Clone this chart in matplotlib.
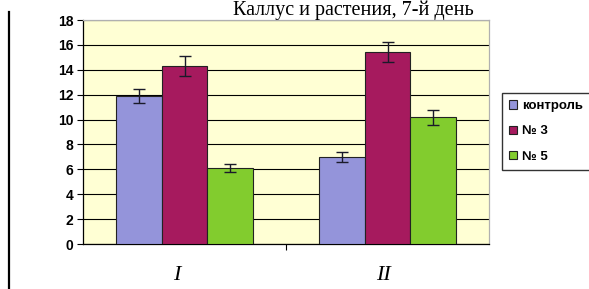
import matplotlib
matplotlib.use("Agg")
from matplotlib import pyplot as plt
from matplotlib.lines import Line2D
import numpy as np

groups = ["I", "II"]
series = ["контроль", "№ 3", "№ 5"]
values = [
    [11.9, 7.0],   # контроль
    [14.3, 15.4],  # № 3
    [6.1, 10.2],   # № 5
]
errors = [
    [0.55, 0.4],
    [0.8, 0.8],
    [0.35, 0.6],
]
colors = ["#9494DA", "#A61A5E", "#82CC2E"]
title = "Каллус и растения, 7-й день"

fig = plt.figure(figsize=(5.89, 2.89), dpi=100)
ax = fig.add_axes([83 / 589, 45 / 289, 406 / 589, 224 / 289])
ax.set_facecolor("#FFFFD4")

x = np.arange(len(groups))
width = 0.224
for i, name in enumerate(series):
    ax.bar(x + (i - 1) * width, values[i], width, color=colors[i], edgecolor="#222222",
           linewidth=0.8, label=name, zorder=3,
           yerr=errors[i], error_kw=dict(ecolor="#1a1a2a", elinewidth=1.0, capsize=4, capthick=1.0))

ax.set_xlim(-0.5, 1.5)
ax.set_ylim(0, 18)
ax.set_yticks(np.arange(0, 19, 2))
ax.yaxis.grid(True, color="black", linewidth=0.8, zorder=0)
ax.set_axisbelow(True)
for lbl in ax.get_yticklabels():
    lbl.set_fontfamily("Liberation Sans")
    lbl.set_fontweight("bold")
    lbl.set_fontsize(10)
ax.tick_params(axis="y", direction="out", length=4, width=0.8, pad=3)

ax.set_xticks([0.5])
ax.set_xticklabels([""])
ax.tick_params(axis="x", direction="out", length=4, width=0.8)
for i, g in enumerate(groups):
    ax.text(i - 0.04 + 0.02 * i, -0.14, g, transform=ax.get_xaxis_transform(), ha="center",
            va="center", fontfamily="Liberation Serif", fontstyle="italic", fontsize=16)

ax.spines["left"].set_color("black")
ax.spines["bottom"].set_color("black")
ax.spines["top"].set_color("#b0b0b0")
ax.spines["right"].set_color("#b0b0b0")
for s in ax.spines.values():
    s.set_linewidth(0.9)

leg = fig.legend(loc="upper left", bbox_to_anchor=(502 / 589, 1 - 93 / 289), frameon=True,
                 fancybox=False, edgecolor="black", handlelength=0.6, handleheight=0.6,
                 handletextpad=0.35, labelspacing=1.0, borderpad=0.55, borderaxespad=0,
                 prop=dict(family="Liberation Sans", weight="bold", size=9.5))
leg.get_frame().set_linewidth(1.0)

fig.text(353 / 589, 1 - 15 / 289, title, ha="center", va="baseline",
         fontfamily="Liberation Serif", fontsize=14.5)

fig.add_artist(Line2D([9 / 589, 9 / 589], [0, 1 - 12 / 289], transform=fig.transFigure,
                      color="black", linewidth=1.6))

fig.savefig("out.png", dpi=100)
